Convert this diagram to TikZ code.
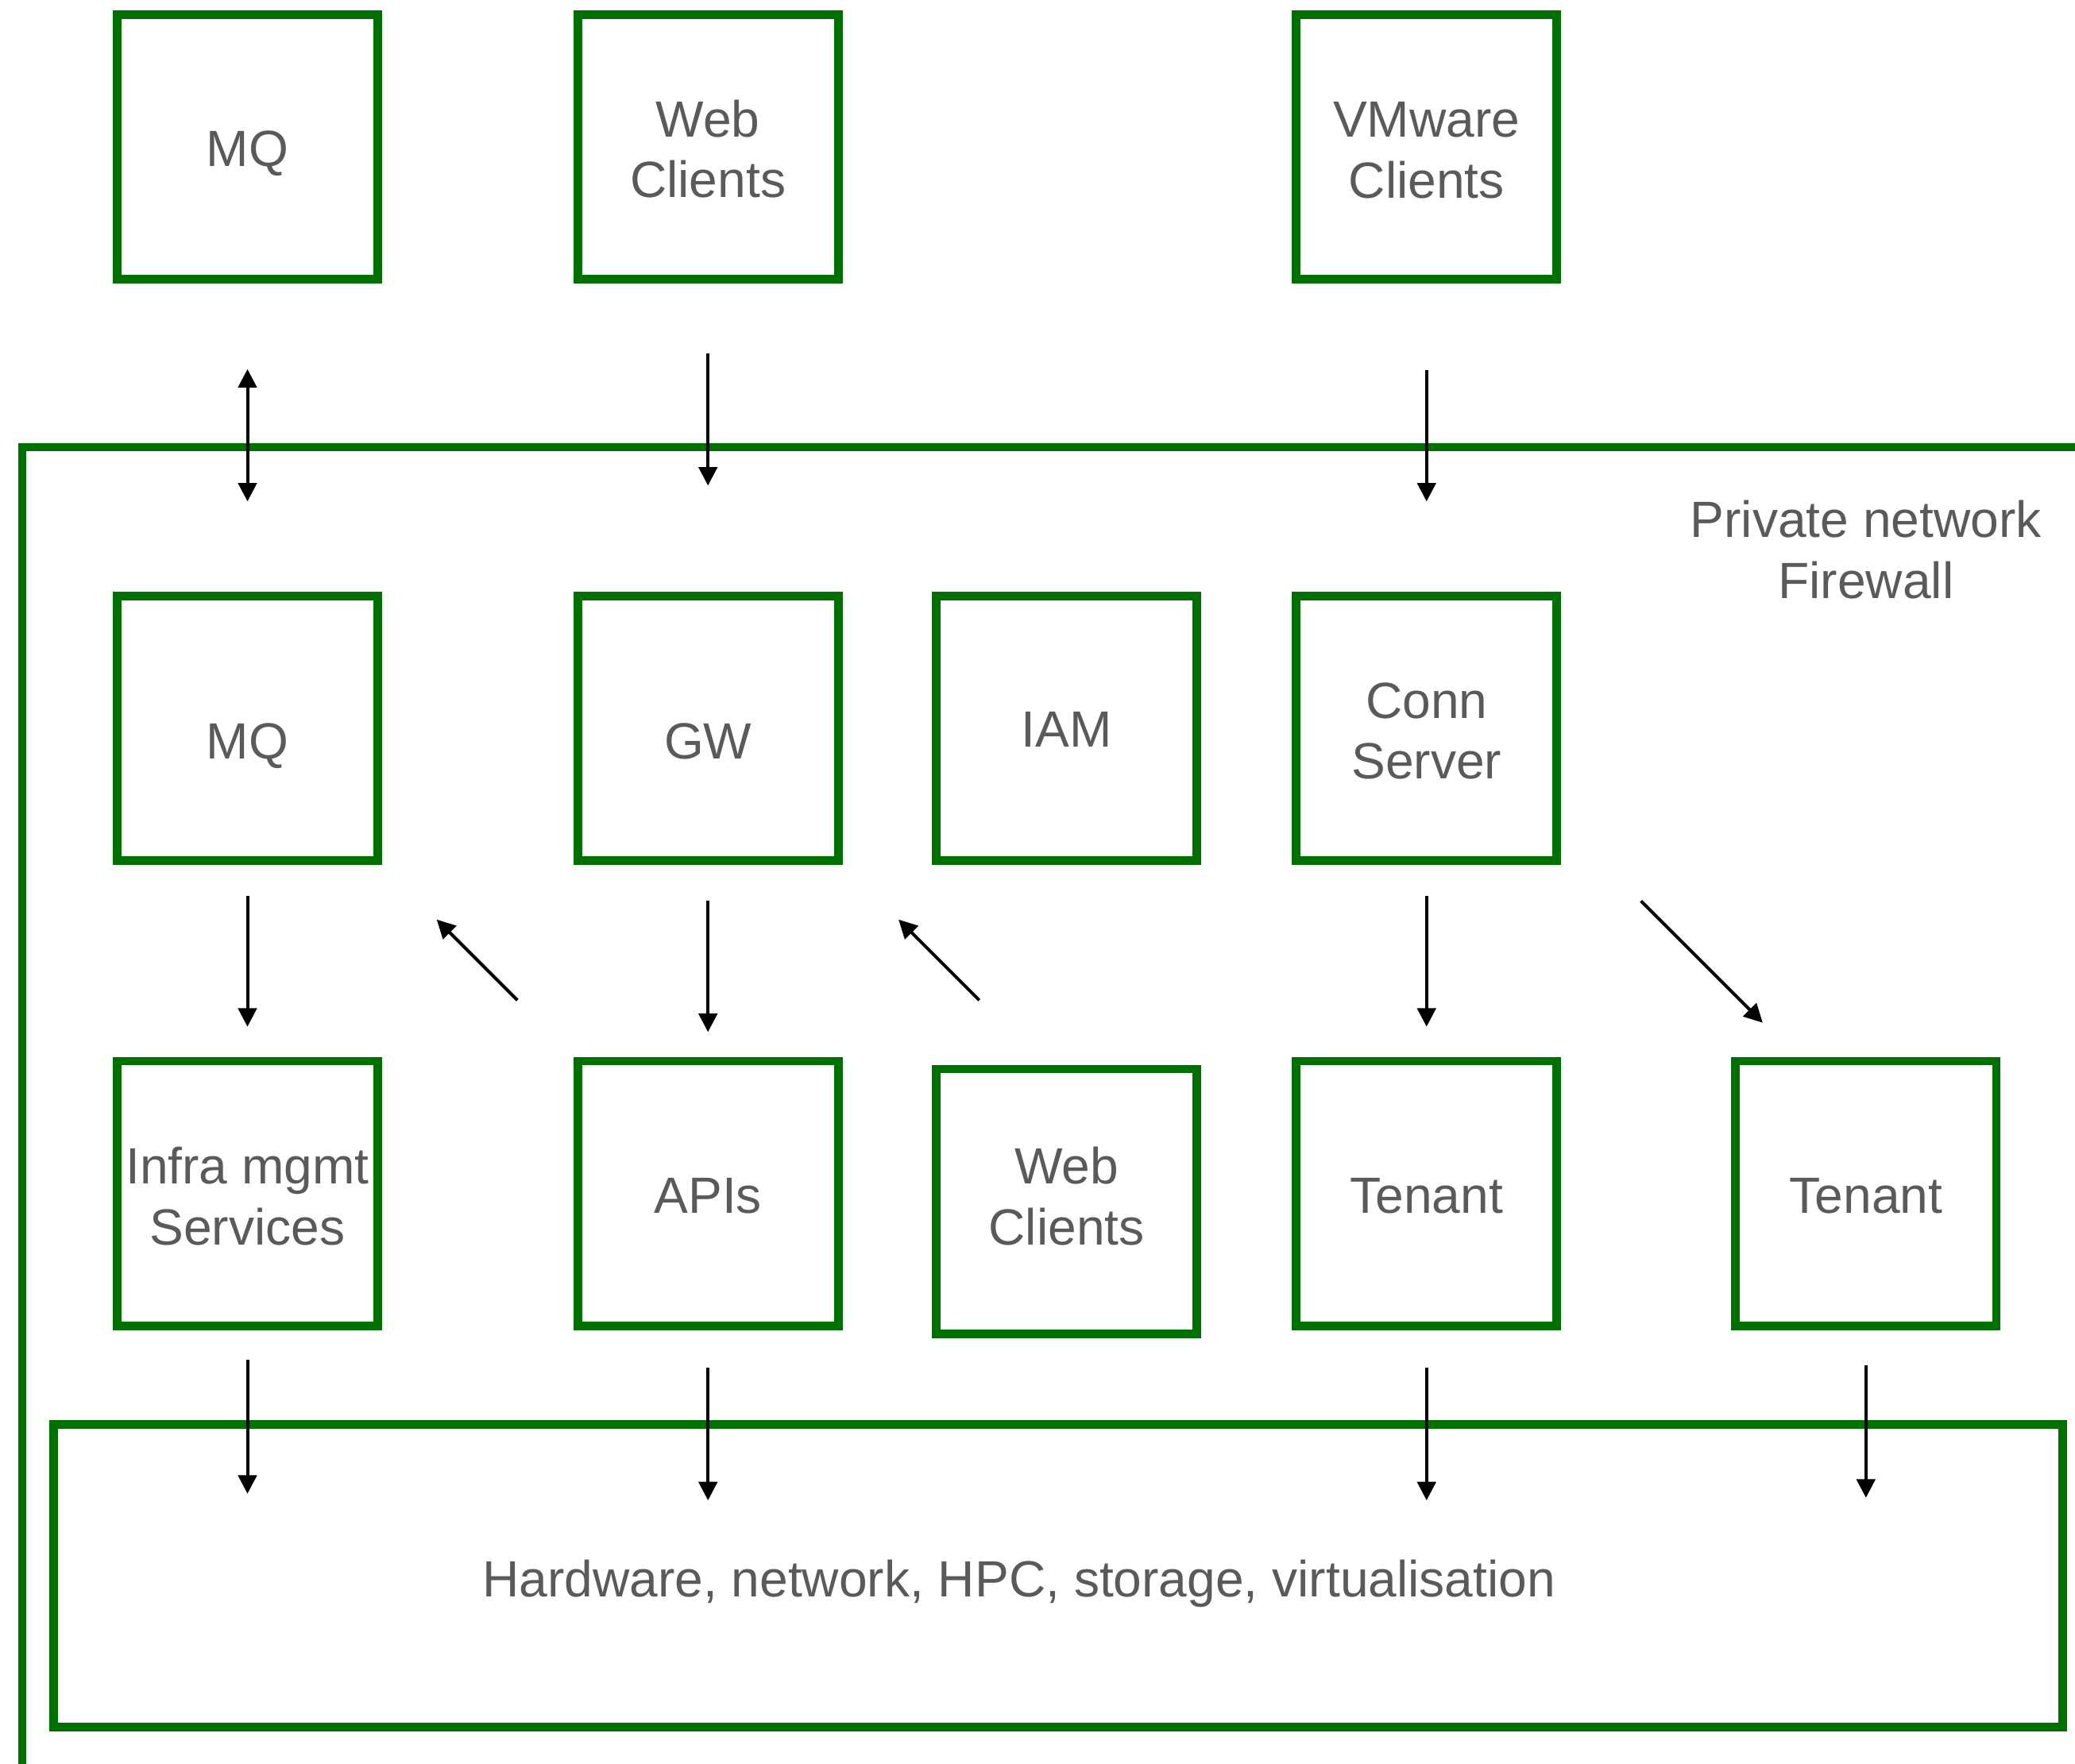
\documentclass[tikz,border=0pt]{standalone}
\usepackage{fontspec}
\setmainfont{Liberation Sans}
\usetikzlibrary{arrows.meta}
\definecolor{boxgreen}{RGB}{0,112,0}
\definecolor{txtgrey}{RGB}{90,90,90}
\tikzset{
  box/.style={draw=boxgreen, line width=6.5pt, minimum width=197pt, minimum height=200pt, inner sep=0pt},
  lbl/.style={inner sep=0pt, align=center, text=txtgrey, font=\fontsize{38.5}{46}\selectfont},
  conn/.style={line width=2.4pt, -{Triangle[length=14pt,width=14pt]}},
  bconn/.style={line width=2.4pt, {Triangle[length=14pt,width=14pt]}-{Triangle[length=14pt,width=14pt]}}
}
\begin{document}
\begin{tikzpicture}[x=1pt,y=-1pt]
\useasboundingbox (0,0) rectangle (1568,1333);
\clip (0,0) rectangle (1568,1333);
% private network frame
\draw[draw=boxgreen, line width=6pt] (17,1400) -- (17,338) -- (1620,338);
\node[lbl] (pn) at (1410,415.5) {Private network\\Firewall};
% top row
\node[box, label={[lbl,yshift=-5pt]center:MQ}] (mqtop) at (187,111) {};
\node[box, label={[lbl,yshift=-1.5pt]center:Web\\Clients}] (webtop) at (535,111) {};
\node[box, label={[lbl,yshift=-2.5pt]center:VMware\\Clients}] (vmw) at (1078,111) {};
% middle row
\node[box, label={[lbl,yshift=-13pt]center:MQ}] (mq) at (187,550.5) {};
\node[box, label={[lbl,yshift=-10pt]center:GW}] (gw) at (535,550.5) {};
\node[box, label={[lbl,yshift=-1pt]center:IAM}] (iam) at (806,550.5) {};
\node[box, label={[lbl,yshift=-2pt]center:Conn\\Server}] (conn) at (1078,550.5) {};
% bottom row
\node[box, label={[lbl,yshift=-2pt]center:Infra mgmt\\Services}] (infra) at (187,902) {};
\node[box, label={[lbl,yshift=-2pt]center:APIs}] (apis) at (535,902) {};
\node[box, label={[lbl,yshift=4pt]center:Web\\Clients}] (webin) at (806,908) {};
\node[box, label={[lbl,yshift=-2pt]center:Tenant}] (ten1) at (1078,902) {};
\node[box, label={[lbl,yshift=-2pt]center:Tenant}] (ten2) at (1410,902) {};
% hardware
\node[draw=boxgreen, line width=6.5pt, minimum width=1518pt, minimum height=229pt, inner sep=0pt] (hw) at (799.5,1191) {};
\node[lbl] (hwl) at (770,1197) {Hardware, network, HPC, storage, virtualisation};
% arrow end points
\coordinate (a1s) at (187,279); \coordinate (a1e) at (187,379);
\coordinate (a2s) at (535,267); \coordinate (a2e) at (535,367);
\coordinate (a3s) at (1078,280); \coordinate (a3e) at (1078,379);
\coordinate (a4s) at (187,677); \coordinate (a4e) at (187,776);
\coordinate (a5s) at (535,681); \coordinate (a5e) at (535,780);
\coordinate (a6s) at (391,756); \coordinate (a6e) at (330,695);
\coordinate (a7s) at (740,756); \coordinate (a7e) at (679,695);
\coordinate (a8s) at (1078,677); \coordinate (a8e) at (1078,776);
\coordinate (a9s) at (1240,681); \coordinate (a9e) at (1332,773);
\coordinate (b1s) at (187,1028); \coordinate (b1e) at (187,1129);
\coordinate (b2s) at (535,1034); \coordinate (b2e) at (535,1134);
\coordinate (b3s) at (1078,1034); \coordinate (b3e) at (1078,1134);
\coordinate (b4s) at (1410,1032); \coordinate (b4e) at (1410,1132);
\draw[bconn] (a1s) -- (a1e);
\draw[conn] (a2s) -- (a2e);
\draw[conn] (a3s) -- (a3e);
\draw[conn] (a4s) -- (a4e);
\draw[conn] (a5s) -- (a5e);
\draw[conn] (a6s) -- (a6e);
\draw[conn] (a7s) -- (a7e);
\draw[conn] (a8s) -- (a8e);
\draw[conn] (a9s) -- (a9e);
\draw[conn] (b1s) -- (b1e);
\draw[conn] (b2s) -- (b2e);
\draw[conn] (b3s) -- (b3e);
\draw[conn] (b4s) -- (b4e);
\end{tikzpicture}
\end{document}
